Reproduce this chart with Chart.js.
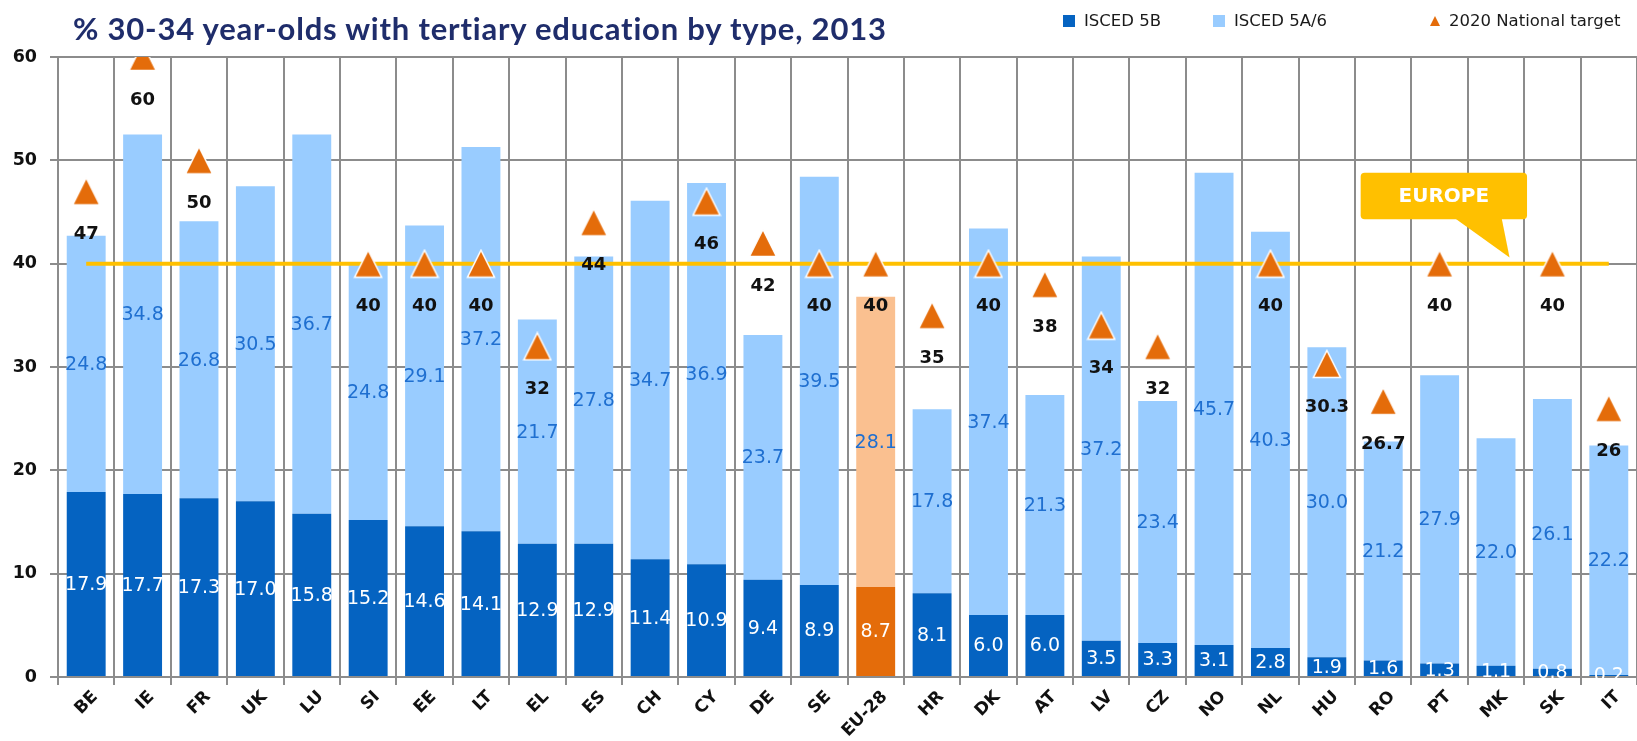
<!DOCTYPE html>
<html>
<head>
<meta charset="utf-8">
<script src="https://cdn.jsdelivr.net/npm/chart.js@4.4.1/dist/chart.umd.min.js"></script>
<style>
    html, body { margin: 0; padding: 0; background: #fff; overflow: hidden; }
    /* a bit wider than the window: the right end of the plot is cut, as in the original */
    .wrap { position: relative; width: 1653px; height: 741px; }
    .title {
        position: absolute; left: 73px; top: 9px;
        font: bold 31px Lato, sans-serif; letter-spacing: 0.8px;
        color: #1F2D6B; white-space: nowrap;
    }
    .legend .item {
        position: absolute; top: 11px;
        display: flex; align-items: center;
        font: 16.5px "DejaVu Sans", sans-serif; color: #1a1a1a; white-space: nowrap;
    }
    .legend .sw { width: 12px; height: 12px; margin-right: 9px; }
    .legend .tri {
        width: 0; height: 0; margin-right: 9px;
        border-left: 5px solid transparent; border-right: 5px solid transparent;
        border-bottom: 10px solid #E46C0A;
    }
</style>
</head>
<body>
<div class="wrap">
    <canvas id="chart"></canvas>
    <div class="title">% 30-34 year-olds with tertiary education by type, 2013</div>
    <div class="legend">
        <span class="item" style="left:1063px"><span class="sw" style="background:#0563C1"></span>ISCED 5B</span>
        <span class="item" style="left:1213px"><span class="sw" style="background:#99CCFF"></span>ISCED 5A/6</span>
        <span class="item" style="left:1430px"><span class="tri"></span>2020 National target</span>
    </div>
</div>

<script>
// data
const categories = ['BE', 'IE', 'FR', 'UK', 'LU', 'SI', 'EE', 'LT', 'EL', 'ES', 'CH', 'CY', 'DE', 'SE',
    'EU-28', 'HR', 'DK', 'AT', 'LV', 'CZ', 'NO', 'NL', 'HU', 'RO', 'PT', 'MK', 'SK', 'IT'];
const isced5B = [17.9, 17.7, 17.3, 17.0, 15.8, 15.2, 14.6, 14.1, 12.9, 12.9, 11.4, 10.9, 9.4, 8.9,
    8.7, 8.1, 6.0, 6.0, 3.5, 3.3, 3.1, 2.8, 1.9, 1.6, 1.3, 1.1, 0.8, 0.2];
const isced5A6 = [24.8, 34.8, 26.8, 30.5, 36.7, 24.8, 29.1, 37.2, 21.7, 27.8, 34.7, 36.9, 23.7, 39.5,
    28.1, 17.8, 37.4, 21.3, 37.2, 23.4, 45.7, 40.3, 30.0, 21.2, 27.9, 22.0, 26.1, 22.2];
const nationalTarget = [47, 60, 50, null, null, 40, 40, 40, 32, 44, null, 46, 42, 40,
    40, 35, 40, 38, 34, 32, null, 40, 30.3, 26.7, 40, null, 40, 26];
const europeTarget = 40;
const yMin = 0, yMax = 60, yStep = 10;

// colours
const blueDark = '#0563C1', blueLight = '#99CCFF';
const orangeDark = '#E46C0A', orangeLight = '#FAC090';
const highlight = 'EU-28';
const gridGrey = '#8c8c8c';

// callout box, in category index / axis value units
const europeNote = {text: 'EUROPE', left: 22.6, right: 25.55, top: 48.8, bottom: 44.3,
    tailFrom: 24.27, tailTo: 25.1, tipX: 25.24, tipY: 40.6};

// orange triangle marker with a thin white edge (centred like an Excel marker)
function triangleMarker(size, color) {
    const cv = document.createElement('canvas');
    cv.width = size; cv.height = size;
    const g = cv.getContext('2d');
    g.beginPath();
    g.moveTo(size / 2, 1.5);
    g.lineTo(size - 1.5, size - 1.5);
    g.lineTo(1.5, size - 1.5);
    g.closePath();
    g.fillStyle = color;
    g.fill();
    g.lineWidth = 1.5;
    g.strokeStyle = '#fff';
    g.stroke();
    return cv;
}

// value labels + the EUROPE callout
const valueLabels = {
    id: 'valueLabels',
    afterDatasetsDraw(chart) {
        const ctx = chart.ctx;
        ctx.save();
        ctx.textAlign = 'center';
        ctx.textBaseline = 'middle';
        ctx.font = '19px "DejaVu Sans"';

        chart.getDatasetMeta(0).data.forEach((bar, i) => {
            const {x, y, base} = bar.getProps(['x', 'y', 'base'], true);
            ctx.fillStyle = '#fff';
            ctx.fillText(isced5B[i].toFixed(1), x, (y + base) / 2 + 1);
        });
        chart.getDatasetMeta(1).data.forEach((bar, i) => {
            const {x, y, base} = bar.getProps(['x', 'y', 'base'], true);
            ctx.fillStyle = '#1F6FD0';
            ctx.fillText(isced5A6[i].toFixed(1), x, (y + base) / 2 + 1);
        });

        ctx.font = 'bold 18px "DejaVu Sans"';
        ctx.fillStyle = '#111';
        chart.getDatasetMeta(3).data.forEach((pt, i) => {
            if (nationalTarget[i] === null) return;
            ctx.fillText(String(nationalTarget[i]), pt.x, pt.y + 43);
        });

        const xs = chart.scales.x, ys = chart.scales.y;
        const l = xs.getPixelForValue(europeNote.left), r = xs.getPixelForValue(europeNote.right);
        const t = ys.getPixelForValue(europeNote.top), b = ys.getPixelForValue(europeNote.bottom);
        ctx.fillStyle = '#FFC000';
        ctx.beginPath();
        ctx.roundRect(l, t, r - l, b - t, 4);
        ctx.fill();
        ctx.beginPath();
        ctx.moveTo(xs.getPixelForValue(europeNote.tailFrom), b - 1);
        ctx.lineTo(xs.getPixelForValue(europeNote.tipX), ys.getPixelForValue(europeNote.tipY));
        ctx.lineTo(xs.getPixelForValue(europeNote.tailTo), b - 1);
        ctx.closePath();
        ctx.fill();
        ctx.fillStyle = '#fff';
        ctx.font = 'bold 20px "DejaVu Sans"';
        ctx.fillText(europeNote.text, (l + r) / 2, (t + b) / 2 + 1);
        ctx.restore();
    }
};

new Chart(document.getElementById('chart'), {
    type: 'bar',
    data: {
        labels: categories,
        datasets: [
            {
                label: 'ISCED 5B',
                data: isced5B,
                backgroundColor: categories.map(c => c === highlight ? orangeDark : blueDark),
                stack: 'isced',
                order: 3,
                barPercentage: 0.69,
                categoryPercentage: 1
            },
            {
                label: 'ISCED 5A/6',
                data: isced5A6,
                backgroundColor: categories.map(c => c === highlight ? orangeLight : blueLight),
                stack: 'isced',
                order: 3,
                barPercentage: 0.69,
                categoryPercentage: 1
            },
            {
                type: 'line',
                label: 'Europe 2020 target',
                data: categories.map(() => europeTarget),
                borderColor: '#FFC000',
                borderWidth: 4,
                pointRadius: 0,
                stack: 'europe',
                order: 2
            },
            {
                type: 'line',
                label: '2020 National target',
                data: nationalTarget,
                showLine: false,
                pointStyle: triangleMarker(30, orangeDark),
                pointRadius: 15,
                stack: 'target',
                order: 1
            }
        ]
    },
    options: {
        responsive: true,
        maintainAspectRatio: false,
        animation: false,
        layout: {padding: {top: 57, left: 0, right: 0, bottom: 0}},
        plugins: {
            legend: {display: false},
            tooltip: {enabled: false}
        },
        scales: {
            x: {
                stacked: true,
                grid: {color: gridGrey, lineWidth: 2, tickLength: 8, offset: true},
                border: {color: gridGrey, width: 2},
                ticks: {
                    autoSkip: false,
                    minRotation: 45,
                    maxRotation: 45,
                    labelOffset: 9,
                    padding: 2,
                    color: '#111',
                    font: {family: 'DejaVu Sans', weight: 'bold', size: 17}
                },
                afterFit: (axis) => { axis.height = 64; }
            },
            y: {
                stacked: true,
                min: yMin,
                max: yMax,
                grid: {color: gridGrey, lineWidth: 2, tickLength: 8},
                border: {color: gridGrey, width: 2},
                ticks: {
                    stepSize: yStep,
                    padding: 13,
                    color: '#111',
                    font: {family: 'DejaVu Sans', weight: 'bold', size: 17.5}
                },
                afterFit: (axis) => { axis.width = 58; }
            }
        }
    },
    plugins: [valueLabels]
});
</script>
</body>
</html>
